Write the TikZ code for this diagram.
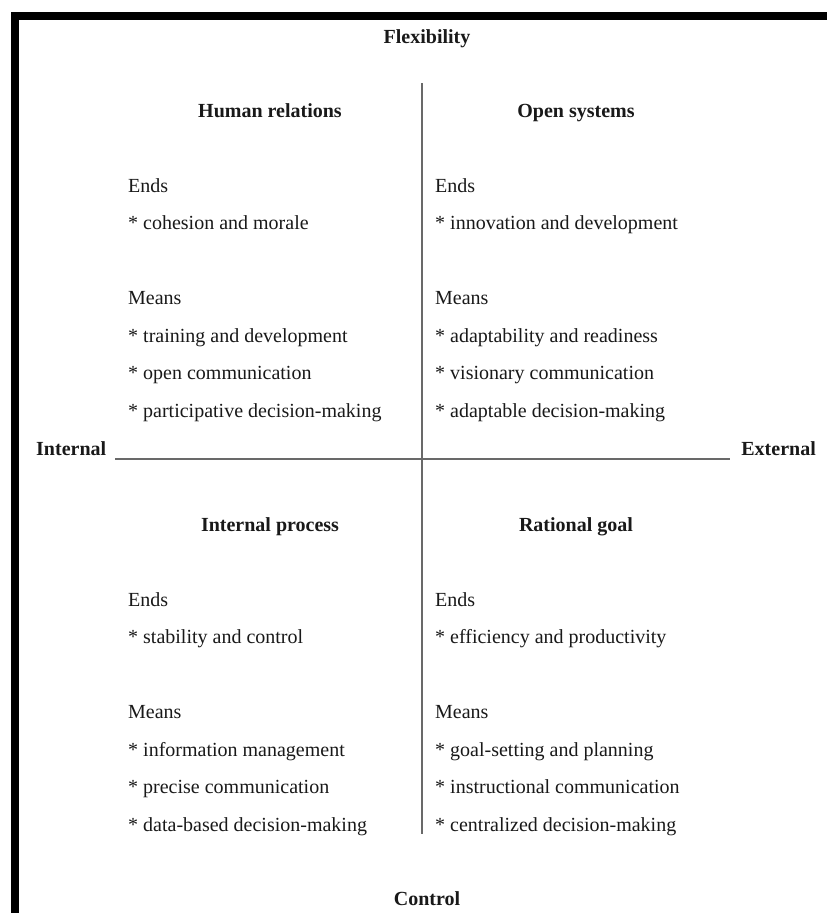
\documentclass[tikz,border=0pt]{standalone}
\usepackage{fontspec}
\setmainfont{Liberation Serif}
\definecolor{axis}{RGB}{105,105,105}
\definecolor{ink}{RGB}{25,25,25}
\begin{document}
\begin{tikzpicture}[x=1pt,y=-1pt,
  txt/.style={anchor=base west,inner sep=0pt,text=ink,font=\fontsize{20}{24}\selectfont},
  head/.style={anchor=base,inner sep=0pt,text=ink,font=\fontsize{20}{24}\selectfont\bfseries},
  axisline/.style={draw=axis,line width=2.3pt}]
\useasboundingbox (0,0) rectangle (827,913);
\fill[white] (0,0) rectangle (827,913);
% border
\fill[black] (11,12) rectangle (827,20);
\fill[black] (11,12) rectangle (19,913);
% axis labels
\node[head] (flex) at (427,43) {Flexibility};
\node[head] (ctrl) at (427,905) {Control};
\node[head,anchor=base west] (int) at (36,455) {Internal};
\node[head,anchor=base east] (ext) at (816,455) {External};
% axes
\coordinate (vt) at (422,83);
\coordinate (vb) at (422,834);
\coordinate (hl) at (115,459);
\coordinate (hr) at (730,459);
\draw[axisline] (vt) -- (vb);
\draw[axisline] (hl) -- (hr);
% headings
\node[head] (hr1) at (270,117) {Human relations};
\node[head] (os) at (576,117) {Open systems};
\node[head] (ip) at (270,531) {Internal process};
\node[head] (rg) at (576,531) {Rational goal};
% Human relations
\node[txt] (a1) at (128,192) {Ends};
\node[txt] (a2) at (128,229) {* cohesion and morale};
\node[txt] (a3) at (128,304) {Means};
\node[txt] (a4) at (128,342) {* training and development};
\node[txt] (a5) at (128,379.5) {* open communication};
\node[txt] (a6) at (128,417) {* participative decision-making};
% Open systems
\node[txt] (b1) at (435,192) {Ends};
\node[txt] (b2) at (435,229) {* innovation and development};
\node[txt] (b3) at (435,304) {Means};
\node[txt] (b4) at (435,342) {* adaptability and readiness};
\node[txt] (b5) at (435,379.5) {* visionary communication};
\node[txt] (b6) at (435,417) {* adaptable decision-making};
% Internal process
\node[txt] (c1) at (128,606) {Ends};
\node[txt] (c2) at (128,643) {* stability and control};
\node[txt] (c3) at (128,718) {Means};
\node[txt] (c4) at (128,756) {* information management};
\node[txt] (c5) at (128,793.5) {* precise communication};
\node[txt] (c6) at (128,831) {* data-based decision-making};
% Rational goal
\node[txt] (d1) at (435,606) {Ends};
\node[txt] (d2) at (435,643) {* efficiency and productivity};
\node[txt] (d3) at (435,718) {Means};
\node[txt] (d4) at (435,756) {* goal-setting and planning};
\node[txt] (d5) at (435,793.5) {* instructional communication};
\node[txt] (d6) at (435,831) {* centralized decision-making};
\end{tikzpicture}
\end{document}
